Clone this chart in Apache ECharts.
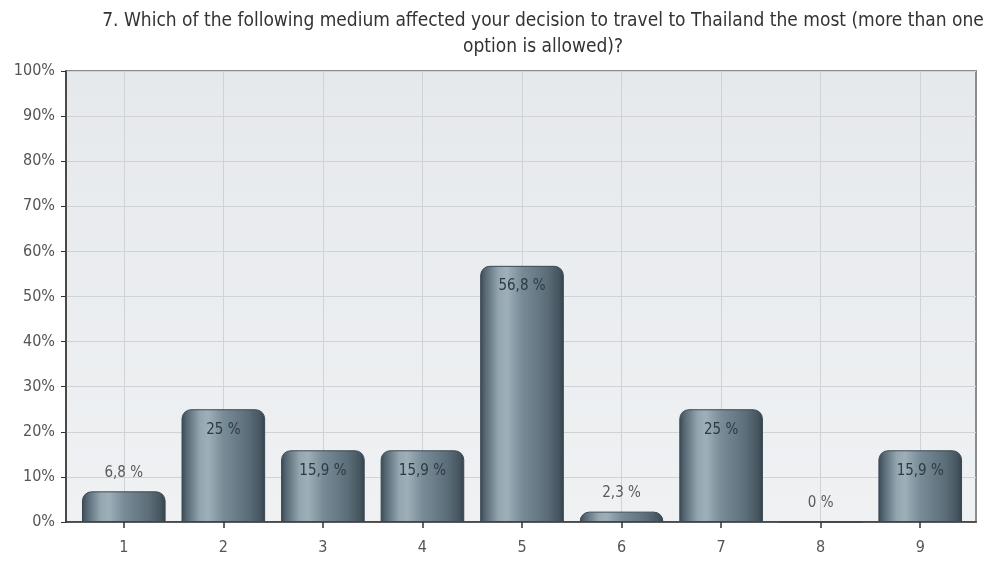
<!DOCTYPE html>
<html>
<head>
<meta charset="utf-8">
<script src="https://cdn.jsdelivr.net/npm/echarts@6/dist/echarts.min.js"></script>
<style>
  html, body { margin: 0; padding: 0; background: #ffffff; }
  #chart { width: 992px; height: 561px; }
</style>
</head>
<body>
<div id="chart"></div>
<script>
// Survey question 7: share of respondents per medium (option number)
const titleText = '7. Which of the following medium affected your decision to travel to Thailand the most (more than one\noption is allowed)?';
const categories = ['1', '2', '3', '4', '5', '6', '7', '8', '9'];
const shares = [6.8, 25, 15.9, 15.9, 56.8, 2.3, 25, 0, 15.9];
const yTicks = [0, 10, 20, 30, 40, 50, 60, 70, 80, 90, 100];

const FONT = '"DejaVu Sans Condensed", "Liberation Sans Narrow", "Arial Narrow", sans-serif';

const chart = echarts.init(document.getElementById('chart'), null, { renderer: 'canvas' });

const fmt = v => String(v).replace('.', ',') + ' %';

// Cylinder-like shading across each bar
const barFill = new echarts.graphic.LinearGradient(0, 0, 1, 0, [
  { offset: 0.00, color: '#3a4953' },
  { offset: 0.06, color: '#566873' },
  { offset: 0.22, color: '#93a6b0' },
  { offset: 0.32, color: '#9eafb8' },
  { offset: 0.50, color: '#788c97' },
  { offset: 0.80, color: '#5b6d78' },
  { offset: 0.94, color: '#465660' },
  { offset: 1.00, color: '#33414a' }
]);

const barData = shares.map(v => ({
  value: v,
  label: v < 10
    ? { position: 'top', distance: 11, color: '#5a5a5a' }
    : { position: 'insideTop', distance: 13, color: '#2e3a42' }
}));

const option = {
  animation: false,
  backgroundColor: '#ffffff',
  title: {
    text: titleText,
    left: 538,
    textAlign: 'center',
    top: 3,
    textStyle: {
      fontFamily: FONT,
      fontSize: 19,
      fontWeight: 'normal',
      color: '#333333',
      lineHeight: 26
    }
  },
  grid: [
    // plot frame and horizontal grid
    {
      left: 66, right: 16, top: 71, bottom: 39,
      show: true,
      backgroundColor: new echarts.graphic.LinearGradient(0, 0, 0, 1, [
        { offset: 0, color: '#e6e9ec' },
        { offset: 1, color: '#eff1f3' }
      ]),
      borderColor: '#8c8c8c',
      borderWidth: 2
    },
    // bar area (inset inside the frame)
    { left: 74, right: 22, top: 71, bottom: 39 }
  ],
  xAxis: [
    {
      gridIndex: 0, type: 'value', min: 0, max: 1,
      axisLine: { show: true, onZero: false, lineStyle: { color: '#333333', width: 1.5 } },
      axisTick: { show: false }, axisLabel: { show: false }, splitLine: { show: false }
    },
    {
      gridIndex: 1, type: 'category', data: categories,
      axisLine: { show: false },
      axisTick: { show: true, alignWithLabel: true, length: 6, lineStyle: { color: '#333333', width: 1.5 } },
      axisLabel: { fontFamily: FONT, fontSize: 16, color: '#555555', margin: 18 },
      splitLine: { show: true, alignWithLabel: true, lineStyle: { color: '#cfd3d7', width: 1 } }
    }
  ],
  yAxis: [
    {
      gridIndex: 0, type: 'value', min: 0, max: 100, interval: 10,
      axisLine: { show: true, lineStyle: { color: '#333333', width: 1.5 } },
      axisTick: { show: true, length: 5, lineStyle: { color: '#333333' } },
      axisLabel: {
        fontFamily: FONT, fontSize: 16, color: '#555555', margin: 11,
        customValues: yTicks,
        formatter: v => v + '%'
      },
      splitLine: { show: true, lineStyle: { color: '#cfd3d7', width: 1 } }
    },
    {
      gridIndex: 1, type: 'value', min: 0, max: 100,
      axisLine: { show: false }, axisTick: { show: false },
      axisLabel: { show: false }, splitLine: { show: false }
    }
  ],
  series: [
    {
      type: 'bar',
      xAxisIndex: 1,
      yAxisIndex: 1,
      data: barData,
      barWidth: '84%',
      clip: false,
      itemStyle: {
        color: barFill,
        borderColor: '#3a4852',
        borderWidth: 1,
        borderRadius: [9, 9, 0, 0]
      },
      label: {
        show: true,
        fontFamily: FONT,
        fontSize: 15,
        formatter: p => fmt(p.value)
      }
    }
  ]
};

chart.setOption(option);
</script>
</body>
</html>
